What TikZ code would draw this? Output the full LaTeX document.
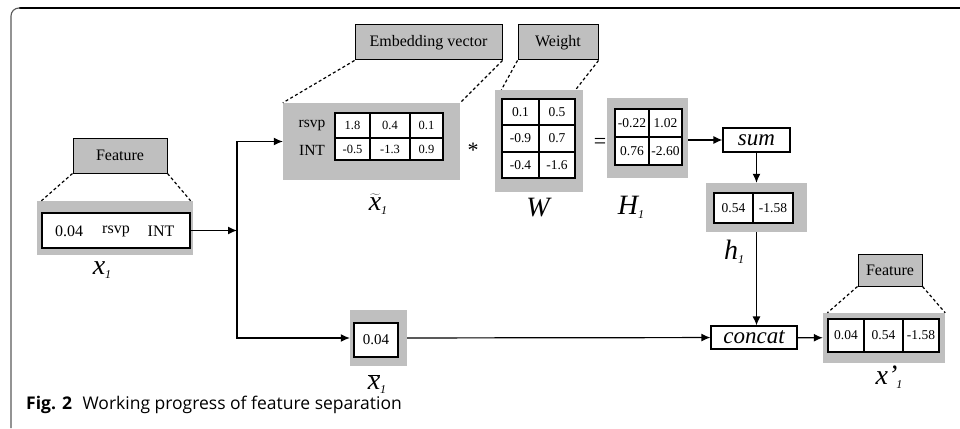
\documentclass[tikz,border=0pt]{standalone}
\usepackage{fontspec}
\setmainfont{Liberation Serif}
\setsansfont{Open Sans}
\usepackage{tikz}
\usetikzlibrary{arrows.meta,positioning}
\definecolor{boxgray}{RGB}{191,191,191}
\newcommand{\fsz}[1]{\fontsize{#1}{#1}\selectfont}
\newcommand{\subi}{\raisebox{-4pt}{\fsz{12}\itshape 1}}

\begin{document}
\begin{tikzpicture}[
x=1pt,y=-1pt,
tag/.style={draw,fill=boxgray,line width=1pt,inner sep=0pt,font=\fsz{16}},
panel/.style={fill=boxgray,inner sep=0pt},
cell/.style={draw,line width=1.2pt,fill=white,inner sep=0pt,font=\fsz{13.5}},
opbox/.style={draw,line width=1.2pt,fill=white,inner sep=0pt,font=\fsz{23}\itshape},
mlab/.style={inner sep=0pt,font=\fsz{28}\itshape},
dots/.style={dash pattern=on 3pt off 2.5pt,line width=1.2pt},
arr/.style={-{Latex[length=9pt,width=8pt]},line width=1.2pt}
]
\useasboundingbox (0,0) rectangle (960,428);
% frame
\draw[line width=1.6pt] (960,8) -- (19,8);
\draw[line width=1.1pt,black!65,rounded corners=8pt] (11,428) -- (11,8) -- (20,8);

% input feature x1
\node[tag,minimum width=94pt,minimum height=35pt] (featA) at (120,155.5) {Feature};
\node[panel,minimum width=156pt,minimum height=54pt] (xing) at (115,228) {};
\node[cell,minimum width=148pt,minimum height=35pt] (xinbox) at (116,230.5) {};
\node[font=\fsz{16}] (xina) at (69,231) {0.04};
\node[font=\fsz{16}] (xinb) at (116,231) {rsvp};
\node[font=\fsz{16}] (xinc) at (161,231) {INT};
\node[mlab] (xlab) at (102,270) {x\subi};
\draw[dots] (featA.south west) -- (xinbox.west |- xing.north);
\draw[dots] (featA.south east) -- (xinbox.east |- xing.north);

% embedding vector
\node[tag,minimum width=147pt,minimum height=35pt] (emb) at (428.5,42.5) {Embedding vector};
\node[panel,minimum width=177pt,minimum height=77pt] (xtg) at (371.5,141.5) {};
\node[cell,font=\fsz{12.5},minimum width=35pt,minimum height=25pt] (xt11) at (352.5,125.5) {1.8};
\node[cell,font=\fsz{12.5},minimum width=40pt,minimum height=25pt] (xt12) at (390,125.5) {0.4};
\node[cell,font=\fsz{12.5},minimum width=33pt,minimum height=25pt] (xt13) at (426.5,125.5) {0.1};
\node[cell,font=\fsz{12.5},minimum width=35pt,minimum height=22pt] (xt21) at (352.5,149) {-0.5};
\node[cell,font=\fsz{12.5},minimum width=40pt,minimum height=22pt] (xt22) at (390,149) {-1.3};
\node[cell,font=\fsz{12.5},minimum width=33pt,minimum height=22pt] (xt23) at (426.5,149) {0.9};
\node[font=\fsz{15.5}] (rowa) at (312,125) {rsvp};
\node[font=\fsz{15.5}] (rowb) at (312,150) {INT};
\node[mlab] (xtlab) at (378,204) {$\widetilde{\hbox{\fsz{28}\itshape x}}$\subi};
\draw[dots] (emb.south west) -- (xtg.north west);
\draw[dots] (emb.south east) -- (xtg.north east);

\node[font=\fsz{22}] (star) at (473,150) {*};

% weight
\node[tag,minimum width=80pt,minimum height=35pt] (wt) at (558,42.5) {Weight};
\node[panel,minimum width=88pt,minimum height=102pt] (wg) at (539,141) {};
\node[cell,minimum width=37pt,minimum height=26pt] (w11) at (520.5,112) {0.1};
\node[cell,minimum width=36pt,minimum height=26pt] (w12) at (557,112) {0.5};
\node[cell,minimum width=37pt,minimum height=27pt] (w21) at (520.5,138.5) {-0.9};
\node[cell,minimum width=36pt,minimum height=27pt] (w22) at (557,138.5) {0.7};
\node[cell,minimum width=37pt,minimum height=26pt] (w31) at (520.5,165) {-0.4};
\node[cell,minimum width=36pt,minimum height=26pt] (w32) at (557,165) {-1.6};
\node[mlab] (wlab) at (538,208) {W};
\draw[dots] (wt.south west) -- (w11.west |- wg.north);
\draw[dots] (wt.south east) -- (w12.east |- wg.north);

\node[font=\fsz{22}] (eq) at (600,143) {=};

% H1
\node[panel,minimum width=81pt,minimum height=80pt] (hg1) at (647.5,138) {};
\node[cell,minimum width=34pt,minimum height=28pt] (H11) at (632,123) {-0.22};
\node[cell,minimum width=33pt,minimum height=28pt] (H12) at (665.5,123) {1.02};
\node[cell,minimum width=34pt,minimum height=28pt] (H21) at (632,151) {0.76};
\node[cell,minimum width=33pt,minimum height=28pt] (H22) at (665.5,151) {-2.60};
\node[mlab] (Hlab) at (631,207) {H\subi};

% sum and h1
\node[opbox,minimum width=67pt,minimum height=24pt] (sum) at (756.5,140) {sum};
\node[panel,minimum width=101pt,minimum height=49pt] (hg) at (756.5,207.5) {};
\node[cell,minimum width=39pt,minimum height=30pt] (h1) at (733.5,208) {0.54};
\node[cell,minimum width=40pt,minimum height=30pt] (h2) at (773,208) {-1.58};
\node[mlab] (hlab) at (734,252) {h\subi};

% x bar
\node[panel,minimum width=57pt,minimum height=56pt] (xbg) at (378.5,338) {};
\node[cell,font=\fsz{15},minimum width=44pt,minimum height=34pt] (xb) at (376,340) {0.04};
\node[mlab] (xblab) at (377,384) {$\overline{\hbox{\fsz{28}\itshape x}}$\subi};

% concat and output
\node[opbox,minimum width=86pt,minimum height=23pt] (concat) at (754,337.5) {concat};
\node[tag,minimum width=64pt,minimum height=32pt] (featB) at (890,270) {Feature};
\node[panel,minimum width=122pt,minimum height=50pt] (xpg) at (884,338) {};
\node[cell,minimum width=36pt,minimum height=33pt] (xp1) at (846,335.5) {0.04};
\node[cell,minimum width=39pt,minimum height=33pt] (xp2) at (883.5,335.5) {0.54};
\node[cell,minimum width=36pt,minimum height=33pt] (xp3) at (921,335.5) {-1.58};
\node[mlab] (xplab) at (889,377) {x'\kern-1pt\subi};
\draw[dots] (featB.south west) -- (xp1.west |- xpg.north);
\draw[dots] (featB.south east) -- (xpg.north east);

% connectors
\coordinate (jn) at (237,230.5);
\draw[arr] (xinbox) -- (jn);
\draw[arr] (jn) |- (xtg.west);
\draw[arr] (jn) |- (xbg.west);
\draw[arr] (hg1.east |- sum.west) -- (sum.west);
\draw[arr] (sum) -- (hg);
\draw[arr] (hg.south) -- (hg.south |- concat.north);
\draw[arr] (xbg) -- (concat);
\draw[arr] (concat) -- (xpg);

% caption
\node[anchor=west,inner sep=0pt,font=\sffamily\fsz{17.5}] (cap) at (26,405) {\textbf{Fig. 2}\hspace{0.6em}Working progress of feature separation};
\end{tikzpicture}
\end{document}
